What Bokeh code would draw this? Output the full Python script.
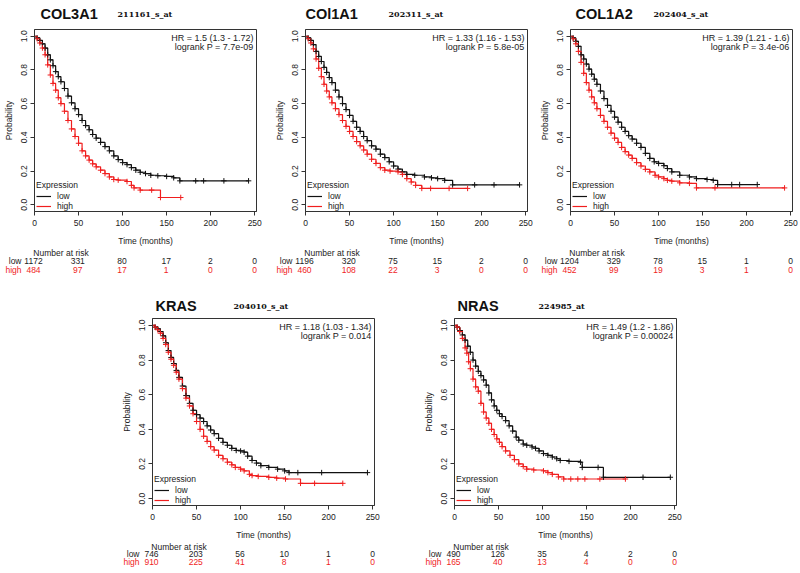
from bokeh.plotting import figure
from bokeh.models import (Range1d, FixedTicker, PrintfTickFormatter, Label,
                          Legend, LegendItem, Spacer, ColumnDataSource)
from bokeh.core.properties import value
from bokeh.layouts import row, column
from bokeh.embed import file_html
from bokeh.resources import INLINE

# ---------------- data ----------------
GENES = ["COL3A1", "COl1A1", "COL1A2", "KRAS", "NRAS"]
PROBES = ["211161_s_at", "202311_s_at", "202404_s_at", "204010_s_at", "224985_at"]
HR_TEXT = ["HR = 1.5 (1.3 - 1.72)", "HR = 1.33 (1.16 - 1.53)", "HR = 1.39 (1.21 - 1.6)",
           "HR = 1.18 (1.03 - 1.34)", "HR = 1.49 (1.2 - 1.86)"]
P_TEXT = ["logrank P = 7.7e-09", "logrank P = 5.8e-05", "logrank P = 3.4e-06",
          "logrank P = 0.014", "logrank P = 0.00024"]

RISK_TIMES = [0, 50, 100, 150, 200, 250]
RISK_LOW = [[1172, 331, 80, 17, 2, 0], [1196, 320, 75, 15, 2, 0], [1204, 329, 78, 15, 1, 0],
            [746, 203, 56, 10, 1, 0], [490, 126, 35, 4, 2, 0]]
RISK_HIGH = [[484, 97, 17, 1, 0, 0], [460, 108, 22, 3, 0, 0], [452, 99, 19, 3, 1, 0],
             [910, 225, 41, 8, 1, 0], [165, 40, 13, 4, 0, 0]]

COL3A1_LOW_T = [0, 3, 6, 9, 12, 15, 18, 21, 24, 27, 30, 34, 38, 42, 46, 50, 54, 58, 62, 66, 70, 75,
                80, 85, 90, 95, 100, 105, 110, 115, 120, 126, 132, 140, 150, 158, 165, 183, 192, 215, 243]
COL3A1_LOW_S = [1.0, 0.99, 0.975, 0.955, 0.93, 0.89, 0.86, 0.825, 0.79, 0.76, 0.73, 0.69, 0.645, 0.605,
                0.57, 0.535, 0.50, 0.47, 0.445, 0.417, 0.395, 0.37, 0.345, 0.32, 0.29, 0.268, 0.25, 0.238,
                0.22, 0.205, 0.193, 0.185, 0.175, 0.172, 0.168, 0.16, 0.142, 0.142, 0.142, 0.142, 0.142]
COL3A1_HIGH_T = [0, 3, 6, 9, 12, 15, 18, 21, 24, 27, 30, 34, 38, 42, 46, 50, 54, 58, 62, 66, 70, 75,
                 80, 85, 90, 95, 105, 110, 113, 120, 133, 143, 166]
COL3A1_HIGH_S = [1.0, 0.985, 0.96, 0.93, 0.89, 0.83, 0.77, 0.72, 0.68, 0.635, 0.60, 0.555, 0.50, 0.45,
                 0.405, 0.365, 0.32, 0.29, 0.265, 0.243, 0.225, 0.205, 0.185, 0.165, 0.15, 0.146, 0.138,
                 0.115, 0.10, 0.087, 0.087, 0.043, 0.043]

COL1A1_LOW_T = [0, 3, 6, 9, 12, 15, 18, 21, 24, 27, 30, 34, 38, 42, 46, 50, 54, 58, 62, 66, 70, 75,
                80, 85, 90, 95, 100, 105, 110, 115, 124, 135, 143, 150, 158, 167, 192, 214, 243]
COL1A1_LOW_S = [1.0, 0.99, 0.975, 0.95, 0.91, 0.88, 0.85, 0.815, 0.785, 0.755, 0.725, 0.68, 0.64, 0.60,
                0.565, 0.53, 0.495, 0.46, 0.435, 0.405, 0.38, 0.35, 0.33, 0.30, 0.28, 0.255, 0.23, 0.212,
                0.195, 0.18, 0.175, 0.165, 0.16, 0.155, 0.145, 0.118, 0.118, 0.118, 0.118]
COL1A1_HIGH_T = [0, 3, 6, 9, 12, 15, 18, 21, 24, 27, 30, 34, 38, 42, 46, 50, 54, 58, 62, 66, 70, 75,
                 80, 85, 90, 96, 105, 110, 115, 120, 125, 132, 142, 163, 184]
COL1A1_HIGH_S = [1.0, 0.985, 0.96, 0.925, 0.865, 0.81, 0.76, 0.715, 0.675, 0.64, 0.605, 0.57, 0.535,
                 0.50, 0.465, 0.435, 0.405, 0.375, 0.35, 0.325, 0.30, 0.27, 0.245, 0.22, 0.205, 0.20,
                 0.195, 0.18, 0.155, 0.135, 0.115, 0.097, 0.097, 0.097, 0.097]

COL1A2_LOW_T = [0, 3, 6, 9, 12, 15, 18, 21, 24, 27, 30, 34, 38, 42, 46, 50, 54, 58, 62, 66, 70, 75,
                80, 85, 90, 95, 100, 106, 110, 115, 124, 135, 143, 155, 162, 167, 183, 192, 212]
COL1A2_LOW_S = [1.0, 0.99, 0.97, 0.94, 0.89, 0.865, 0.835, 0.805, 0.775, 0.745, 0.715, 0.675, 0.63,
                0.59, 0.555, 0.52, 0.49, 0.46, 0.435, 0.41, 0.39, 0.365, 0.34, 0.305, 0.275, 0.255, 0.245,
                0.232, 0.215, 0.195, 0.175, 0.165, 0.155, 0.15, 0.145, 0.12, 0.12, 0.12, 0.12]
COL1A2_HIGH_T = [0, 3, 6, 9, 12, 15, 18, 21, 24, 27, 30, 34, 38, 42, 46, 50, 54, 58, 62, 66, 70, 75,
                 80, 85, 90, 96, 100, 106, 110, 115, 124, 135, 143, 164, 243]
COL1A2_HIGH_S = [1.0, 0.985, 0.955, 0.91, 0.845, 0.78, 0.725, 0.68, 0.64, 0.605, 0.57, 0.53, 0.495,
                 0.46, 0.425, 0.395, 0.37, 0.34, 0.315, 0.295, 0.275, 0.25, 0.23, 0.21, 0.195, 0.175,
                 0.165, 0.155, 0.145, 0.14, 0.13, 0.127, 0.10, 0.10, 0.10]

KRAS_LOW_T = [0, 3, 6, 9, 12, 15, 18, 21, 24, 27, 30, 34, 38, 42, 46, 50, 54, 58, 62, 66, 70, 75, 80,
              85, 90, 95, 100, 104, 108, 113, 118, 123, 132, 142, 150, 155, 165, 192, 244]
KRAS_LOW_S = [1.0, 0.99, 0.98, 0.965, 0.94, 0.90, 0.855, 0.815, 0.78, 0.74, 0.70, 0.65, 0.595, 0.55,
              0.51, 0.485, 0.465, 0.445, 0.42, 0.396, 0.375, 0.348, 0.325, 0.308, 0.29, 0.278, 0.275,
              0.268, 0.245, 0.22, 0.205, 0.19, 0.18, 0.17, 0.16, 0.15, 0.15, 0.15, 0.15]
KRAS_HIGH_T = [0, 3, 6, 9, 12, 15, 18, 21, 24, 27, 30, 34, 38, 42, 46, 50, 54, 58, 62, 66, 70, 75, 80,
               85, 90, 94, 100, 104, 110, 113, 120, 132, 141, 151, 168, 184, 216]
KRAS_HIGH_S = [1.0, 0.99, 0.975, 0.955, 0.925, 0.89, 0.845, 0.805, 0.77, 0.73, 0.69, 0.635, 0.58, 0.535,
               0.49, 0.445, 0.40, 0.36, 0.33, 0.30, 0.28, 0.25, 0.23, 0.21, 0.195, 0.18, 0.17, 0.16,
               0.14, 0.133, 0.128, 0.123, 0.118, 0.113, 0.088, 0.088, 0.088]

NRAS_LOW_T = [0, 3, 6, 9, 12, 15, 18, 21, 24, 27, 30, 33, 36, 39, 42, 45, 48, 51, 54, 58, 62, 66, 70,
              73, 78, 82, 88, 92, 96, 101, 106, 111, 116, 120, 130, 143, 145, 163, 169, 214, 245]
NRAS_LOW_S = [1.0, 0.99, 0.97, 0.945, 0.915, 0.88, 0.845, 0.80, 0.765, 0.735, 0.71, 0.685, 0.655, 0.61,
              0.57, 0.535, 0.51, 0.49, 0.474, 0.45, 0.42, 0.39, 0.355, 0.337, 0.315, 0.308, 0.298, 0.29,
              0.275, 0.26, 0.25, 0.24, 0.23, 0.22, 0.215, 0.21, 0.18, 0.18, 0.123, 0.123, 0.123]
NRAS_HIGH_T = [0, 3, 6, 9, 12, 14, 16, 18, 21, 24, 27, 30, 33, 36, 39, 42, 45, 48, 51, 54, 58, 63, 68,
               73, 78, 82, 90, 101, 106, 111, 118, 124, 132, 140, 148, 165, 194]
NRAS_HIGH_S = [1.0, 0.99, 0.965, 0.925, 0.87, 0.84, 0.79, 0.75, 0.69, 0.645, 0.62, 0.55, 0.50, 0.465,
               0.435, 0.40, 0.37, 0.345, 0.325, 0.30, 0.275, 0.25, 0.225, 0.20, 0.185, 0.17, 0.165,
               0.16, 0.15, 0.14, 0.125, 0.113, 0.113, 0.113, 0.113, 0.113, 0.113]

CURVES = [
    (COL3A1_LOW_T, COL3A1_LOW_S, COL3A1_HIGH_T, COL3A1_HIGH_S),
    (COL1A1_LOW_T, COL1A1_LOW_S, COL1A1_HIGH_T, COL1A1_HIGH_S),
    (COL1A2_LOW_T, COL1A2_LOW_S, COL1A2_HIGH_T, COL1A2_HIGH_S),
    (KRAS_LOW_T, KRAS_LOW_S, KRAS_HIGH_T, KRAS_HIGH_S),
    (NRAS_LOW_T, NRAS_LOW_S, NRAS_HIGH_T, NRAS_HIGH_S),
]

# ---------------- styling / geometry ----------------
FONT = "Liberation Sans"
TXT = "#222222"
RED = "#f01e1e"
BLK = "#111111"
FS = "8.5px"
XMAX = 252
FW, BL, BR = 223, 33, 8
W = BL + FW + BR
TITLE_DX = [7, 1, 6, 4, 4]
PROBE_DX = [84, 84, 84, 82, 85]


def bare_fig(h, xr):
    f = figure(width=W, height=h, min_border=0, min_border_left=0, min_border_right=0,
               min_border_top=0, min_border_bottom=0, x_range=xr, y_range=Range1d(h, 0),
               x_axis_location=None, y_axis_location=None, output_backend="svg",
               toolbar_location=None, tools="", frame_align=False)
    f.grid.visible = False
    f.outline_line_color = None
    return f


def make_panel(i, head_h, fh, risk_h, title_y, risk_y):
    k = FW / XMAX  # px per month
    full_xr = Range1d(-BL / k, (W - BL) / k)

    # ---- header: gene + probe
    hd = bare_fig(head_h, full_xr)
    hd.text(x=[0], y=[title_y], text=[GENES[i]], x_offset=TITLE_DX[i], text_font=value(FONT),
            text_font_size="14.5px", text_font_style="bold", text_color="#111111",
            text_baseline="middle", text_align="left")
    hd.text(x=[0], y=[title_y], text=[PROBES[i]], x_offset=PROBE_DX[i], text_font=value("DejaVu Serif"),
            text_font_size="8px", text_font_style="bold", text_color="#111111",
            text_baseline="middle", text_align="left")

    # ---- main KM plot
    p = figure(width=W, height=2 + fh + 36, min_border_left=BL, min_border_right=BR,
               min_border_top=2, min_border_bottom=36,
               x_range=Range1d(0, XMAX), y_range=Range1d(-0.04, 1.04),
               output_backend="svg", toolbar_location=None, tools="", frame_align=False)
    p.grid.visible = False
    p.outline_line_color = "#333333"
    p.outline_line_width = 1

    xa, ya = p.xaxis[0], p.yaxis[0]
    xa.ticker = FixedTicker(ticks=RISK_TIMES)
    ya.ticker = FixedTicker(ticks=[0, 0.2, 0.4, 0.6, 0.8, 1.0])
    ya.formatter = PrintfTickFormatter(format="%.1f")
    ya.major_label_orientation = "vertical"
    for ax in (xa, ya):
        ax.minor_tick_line_color = None
        ax.major_tick_in = 0
        ax.major_tick_out = 4
        ax.axis_line_color = "#333333"
        ax.major_tick_line_color = "#333333"
        ax.major_label_text_font = FONT
        ax.major_label_text_font_size = FS
        ax.major_label_text_color = TXT
        ax.axis_label_text_font = FONT
        ax.axis_label_text_font_size = FS
        ax.axis_label_text_font_style = "normal"
        ax.axis_label_text_color = TXT
    xa.axis_label = "Time (months)"
    ya.axis_label = "Probability"
    xa.major_label_standoff = 4
    xa.axis_label_standoff = 7
    ya.major_label_standoff = 3
    ya.axis_label_standoff = 5

    lt, ls, ht, hs = CURVES[i]
    r_low = p.step(lt, ls, mode="after", line_color=BLK, line_width=1.2)
    r_high = p.step(ht, hs, mode="after", line_color=RED, line_width=1.2)
    p.scatter(lt[1:], ls[1:], marker="cross", size=5.5, line_color=BLK, line_width=1)
    p.scatter(ht[1:], hs[1:], marker="cross", size=5.5, line_color=RED, line_width=1)

    leg = Legend(items=[LegendItem(label="low", renderers=[r_low]),
                        LegendItem(label="high", renderers=[r_high])],
                 title="Expression", location=(2, 0), orientation="vertical",
                 border_line_color=None, background_fill_alpha=0,
                 label_text_font=FONT, label_text_font_size=FS, label_text_color=TXT,
                 title_text_font=FONT, title_text_font_size=FS, title_text_font_style="normal",
                 title_text_color=TXT, glyph_width=15, glyph_height=8, label_height=8,
                 label_standoff=6, padding=2, spacing=0, margin=0, title_standoff=1)
    p.add_layout(leg)

    for dy, txt in ((9, HR_TEXT[i]), (18, P_TEXT[i])):
        p.add_layout(Label(x=FW - 4, y=fh - dy, x_units="screen", y_units="screen", text=txt,
                           text_color=TXT, text_font_size="9px", text_font=FONT,
                           text_align="right", text_baseline="middle"))

    # ---- risk table
    rk = bare_fig(risk_h, full_xr)
    y0, y1, y2 = risk_y
    rk.text(x=[0], y=[y0], text=["Number at risk"], x_offset=27.5, text_font=value(FONT),
            text_font_size=FS, text_color=TXT, text_align="center", text_baseline="middle")
    rk.text(x=[0, 0], y=[y1, y2], text=["low", "high"], x_offset=-12, text_font=value(FONT),
            text_font_size=FS, text_color=[TXT, RED], text_align="right", text_baseline="middle")
    src = ColumnDataSource(dict(t=RISK_TIMES, lo=[str(v) for v in RISK_LOW[i]],
                                hi=[str(v) for v in RISK_HIGH[i]]))
    rk.text(x="t", y=y1, text="lo", source=src, text_font=value(FONT), text_font_size=FS,
            text_color=TXT, text_align="center", text_baseline="middle")
    rk.text(x="t", y=y2, text="hi", source=src, text_font=value(FONT), text_font_size=FS,
            text_color=RED, text_align="center", text_baseline="middle")

    return column(hd, p, rk, spacing=0)


top = [make_panel(i, 27, 183, 32, 13, (4.5, 12.5, 21)) for i in range(3)]
bot = [make_panel(i, 36, 188, 30, 25, (4.5, 11.5, 19.5)) for i in range(3, 5)]

layout = column(
    row(top[0], Spacer(width=7), top[1], Spacer(width=1), top[2], spacing=0),
    row(Spacer(width=118), bot[0], Spacer(width=38), bot[1], spacing=0),
    spacing=0,
)

open("out.html", "w").write(file_html(layout, INLINE))
